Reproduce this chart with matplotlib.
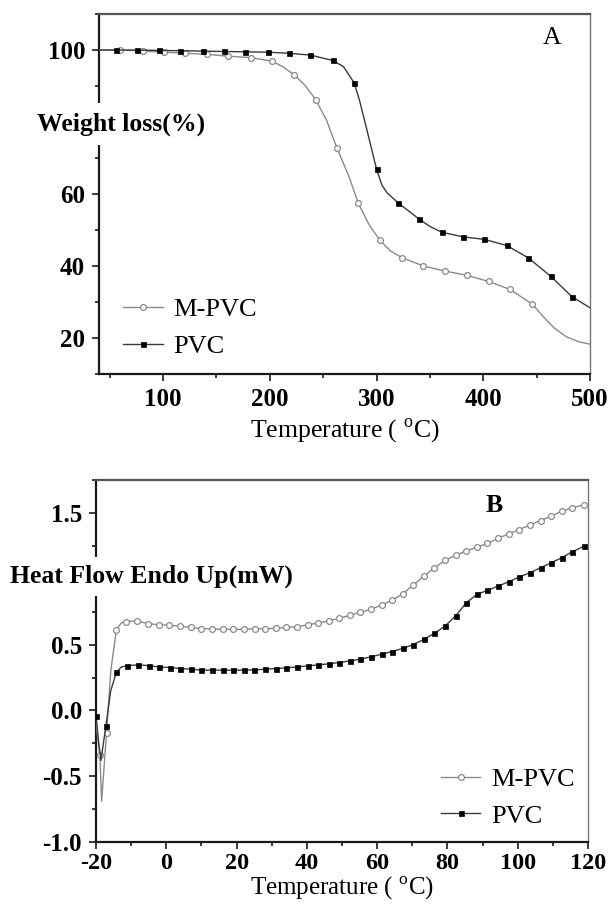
import matplotlib
matplotlib.use('Agg')
import matplotlib.pyplot as plt
from matplotlib.ticker import MultipleLocator, FuncFormatter

plt.rcParams['font.family'] = ['Liberation Serif', 'DejaVu Serif']
plt.rcParams['mathtext.fontset'] = 'custom'
plt.rcParams['mathtext.rm'] = 'Liberation Serif'
plt.rcParams['axes.unicode_minus'] = False

# ---------------- Panel A (TGA) ----------------
a_mpvc_mark_T = [60, 81, 101, 121, 141, 161, 182, 202, 223, 243, 263, 283, 303, 324, 344, 364, 385, 405, 425, 446]
a_mpvc_mark_W = [100, 99.7, 99.4, 99.1, 98.8, 98.3, 97.9, 96.9, 93.1, 86.2, 72.7, 57.4, 47.2, 42.3, 40.0, 38.6, 37.4, 35.7, 33.5, 29.4]
a_mpvc_extra_T = [40, 212, 233, 253, 274, 293, 313, 456, 466, 478, 490, 500]
a_mpvc_extra_W = [100, 95.4, 90.2, 80.6, 65.0, 51.5, 44.2, 26.0, 22.9, 20.3, 18.9, 18.3]

a_pvc_mark_T = [56, 76, 96, 116, 137, 157, 177, 198, 218, 238, 259, 279, 300, 320, 340, 361, 381, 401, 422, 442, 463, 483]
a_pvc_mark_W = [100, 100, 99.9, 99.8, 99.7, 99.6, 99.5, 99.4, 99.1, 98.6, 97.1, 90.9, 66.9, 57.6, 53.0, 49.4, 48.1, 47.4, 45.7, 42.3, 37.2, 31.5]
a_pvc_extra_T = [40, 269, 284, 291, 305, 310, 350, 500]
a_pvc_extra_W = [100, 95.4, 86.1, 77.8, 62.5, 60.3, 51.0, 28.4]

a_hidden_ytick = 80   # covered by the axis title in the reference

# ---------------- Panel B (DSC) ----------------
b_mpvc_mark_T = [-18.9, -17.0, -14.2, -11.4, -8.3, -5.2, -2.1, 0.9, 4.0, 7.0, 10.0, 13.0, 16.0, 19.0, 22.0, 25.2,
                 28.1, 31.1, 34.1, 37.1, 40.2, 43.2, 46.2, 49.2, 52.2, 55.2, 58.2, 61.3, 64.3, 67.3, 70.3, 73.3,
                 76.3, 79.3, 82.3, 85.4, 88.4, 91.4, 94.4, 97.4, 100.4, 103.4, 106.5, 109.5, 112.5, 115.5, 118.9]
b_mpvc_mark_H = [-0.34, -0.17, 0.61, 0.674, 0.68, 0.66, 0.65, 0.647, 0.64, 0.63, 0.62, 0.62, 0.616, 0.616, 0.616, 0.62,
                 0.62, 0.624, 0.63, 0.636, 0.65, 0.664, 0.68, 0.70, 0.722, 0.745, 0.768, 0.80, 0.838, 0.886, 0.952, 1.02,
                 1.083, 1.139, 1.18, 1.21, 1.24, 1.268, 1.306, 1.341, 1.374, 1.407, 1.442, 1.475, 1.513, 1.538, 1.563]
b_mpvc_extra_T = [-20.0, -18.4, -15.8, -12.8]
b_mpvc_extra_H = [-0.10, -0.69, 0.30, 0.665]

b_pvc_mark_T = [-20.0, -17.2, -14.2, -11.1, -8.1, -5.0, -2.0, 1.0, 4.0, 7.0, 10.0, 13.0, 16.0, 19.1, 22.1, 25.1,
                28.1, 31.1, 34.1, 37.1, 40.2, 43.2, 46.2, 49.2, 52.2, 55.2, 58.2, 61.3, 64.3, 67.3, 70.3, 73.3,
                76.3, 79.3, 82.3, 85.4, 88.4, 91.4, 94.4, 97.4, 100.4, 103.4, 106.5, 109.5, 112.5, 115.5, 118.9]
b_pvc_mark_H = [-0.04, -0.12, 0.29, 0.34, 0.346, 0.34, 0.33, 0.326, 0.318, 0.313, 0.306, 0.306, 0.306, 0.306, 0.306, 0.308,
                0.313, 0.318, 0.323, 0.33, 0.338, 0.346, 0.354, 0.364, 0.376, 0.389, 0.407, 0.427, 0.447, 0.472, 0.50, 0.54,
                0.586, 0.64, 0.717, 0.818, 0.881, 0.912, 0.944, 0.977, 1.013, 1.045, 1.083, 1.121, 1.159, 1.205, 1.247]
b_pvc_extra_T = [-19.2, -18.6, -15.8, -12.8]
b_pvc_extra_H = [-0.25, -0.38, 0.15, 0.33]

b_hidden_ytick = 1.0  # covered by the axis title in the reference

series_names = ['M-PVC', 'PVC']


def merge(mT, mV, eT, eV):
    pts = [(t, v, True) for t, v in zip(mT, mV)] + [(t, v, False) for t, v in zip(eT, eV)]
    pts.sort(key=lambda p: p[0])
    T = [p[0] for p in pts]
    V = [p[1] for p in pts]
    idx = [i for i, p in enumerate(pts) if p[2]]
    return T, V, idx


MPVC_COLOR = '#8a8a8a'
PVC_COLOR = '#3a3a3a'

fig = plt.figure(figsize=(6.13, 9.06), dpi=100)
axA = fig.add_axes([0.1615, 0.5872, 0.801, 0.3973])
axB = fig.add_axes([0.1566, 0.0705, 0.8026, 0.3997])


def style(ax):
    for s in ['left', 'bottom']:
        ax.spines[s].set_linewidth(1.6)
        ax.spines[s].set_color('#1a1a1a')
    ax.spines['top'].set_linewidth(1.6)
    ax.spines['top'].set_color('#555555')
    ax.spines['right'].set_linewidth(1.0)
    ax.spines['right'].set_color('#777777')
    ax.tick_params(which='both', direction='out', top=False, right=False, color='#1a1a1a', width=1.2)
    ax.tick_params(which='major', length=5, labelsize=18, pad=5)
    ax.tick_params(which='minor', length=3)


def draw(ax, mT, mV, eT, eV, name, kind):
    T, V, idx = merge(mT, mV, eT, eV)
    if kind == 'open':
        ax.plot(T, V, color=MPVC_COLOR, lw=1.0, marker='o', markevery=idx, ms=4.2,
                mfc='white', mec=MPVC_COLOR, mew=0.9, label=name, zorder=3)
    else:
        ax.plot(T, V, color=PVC_COLOR, lw=1.0, marker='s', markevery=idx, ms=3.6,
                mfc='black', mec='black', mew=0.5, label=name, zorder=3)


def fmt_skip(skip, spec):
    def f(v, pos):
        if abs(v - skip) < 1e-9:
            return ''
        return spec % v
    return FuncFormatter(f)


# Panel A
style(axA)
draw(axA, a_mpvc_mark_T, a_mpvc_mark_W, a_mpvc_extra_T, a_mpvc_extra_W, series_names[0], 'open')
draw(axA, a_pvc_mark_T, a_pvc_mark_W, a_pvc_extra_T, a_pvc_extra_W, series_names[1], 'filled')
axA.set_xlim(40, 500)
axA.set_ylim(10, 110)
axA.xaxis.set_major_locator(MultipleLocator(100))
axA.xaxis.set_minor_locator(MultipleLocator(50))
axA.yaxis.set_major_locator(MultipleLocator(20))
axA.yaxis.set_minor_locator(MultipleLocator(10))
axA.yaxis.set_major_formatter(fmt_skip(a_hidden_ytick, '%d'))
axA.set_xlabel(r'Temperature ( $^{\mathregular{o}}$C)', fontsize=18.5, labelpad=4)
axA.text(-0.126, 79.5, 'Weight loss(%)', transform=axA.get_yaxis_transform(), fontsize=18.5,
         fontweight='bold', ha='left', va='center', zorder=10, clip_on=False,
         bbox=dict(boxstyle='square,pad=0.35', fc='white', ec='none'))
axA.text(464, 103.3, 'A', fontsize=18.5, ha='center', va='center')
axA.legend(loc='center left', bbox_to_anchor=(0.049, 0.128), frameon=False, fontsize=19,
           handlelength=1.5, handletextpad=0.4, labelspacing=0.5, borderaxespad=0, borderpad=0,
           numpoints=1)

# Panel B
style(axB)
axB.tick_params(axis='x', which='major', labelsize=17.5, pad=2.5)
draw(axB, b_mpvc_mark_T, b_mpvc_mark_H, b_mpvc_extra_T, b_mpvc_extra_H, series_names[0], 'open')
draw(axB, b_pvc_mark_T, b_pvc_mark_H, b_pvc_extra_T, b_pvc_extra_H, series_names[1], 'filled')
axB.set_xlim(-20, 120)
axB.set_ylim(-1.0, 1.75)
axB.xaxis.set_major_locator(MultipleLocator(20))
axB.xaxis.set_minor_locator(MultipleLocator(10))
axB.yaxis.set_major_locator(MultipleLocator(0.5))
axB.yaxis.set_minor_locator(MultipleLocator(0.25))
axB.yaxis.set_major_formatter(fmt_skip(b_hidden_ytick, '%.1f'))
axB.set_xlabel(r'Temperature ( $^{\mathregular{o}}$C)', fontsize=18, labelpad=1)
axB.text(-0.175, 1.02, 'Heat Flow Endo Up(mW)', transform=axB.get_yaxis_transform(), fontsize=18.5,
         fontweight='bold', ha='left', va='center', zorder=10, clip_on=False,
         bbox=dict(boxstyle='square,pad=0.3', fc='white', ec='none'))
axB.text(93.3, 1.56, 'B', fontsize=18.5, fontweight='bold', ha='center', va='center')
axB.legend(loc='center left', bbox_to_anchor=(0.701, 0.123), frameon=False, fontsize=19,
           handlelength=1.5, handletextpad=0.4, labelspacing=0.5, borderaxespad=0, borderpad=0,
           numpoints=1)

for ax in (axA, axB):
    for lbl in ax.get_xticklabels() + ax.get_yticklabels():
        lbl.set_fontweight('bold')

fig.savefig('out.png', dpi=100)
